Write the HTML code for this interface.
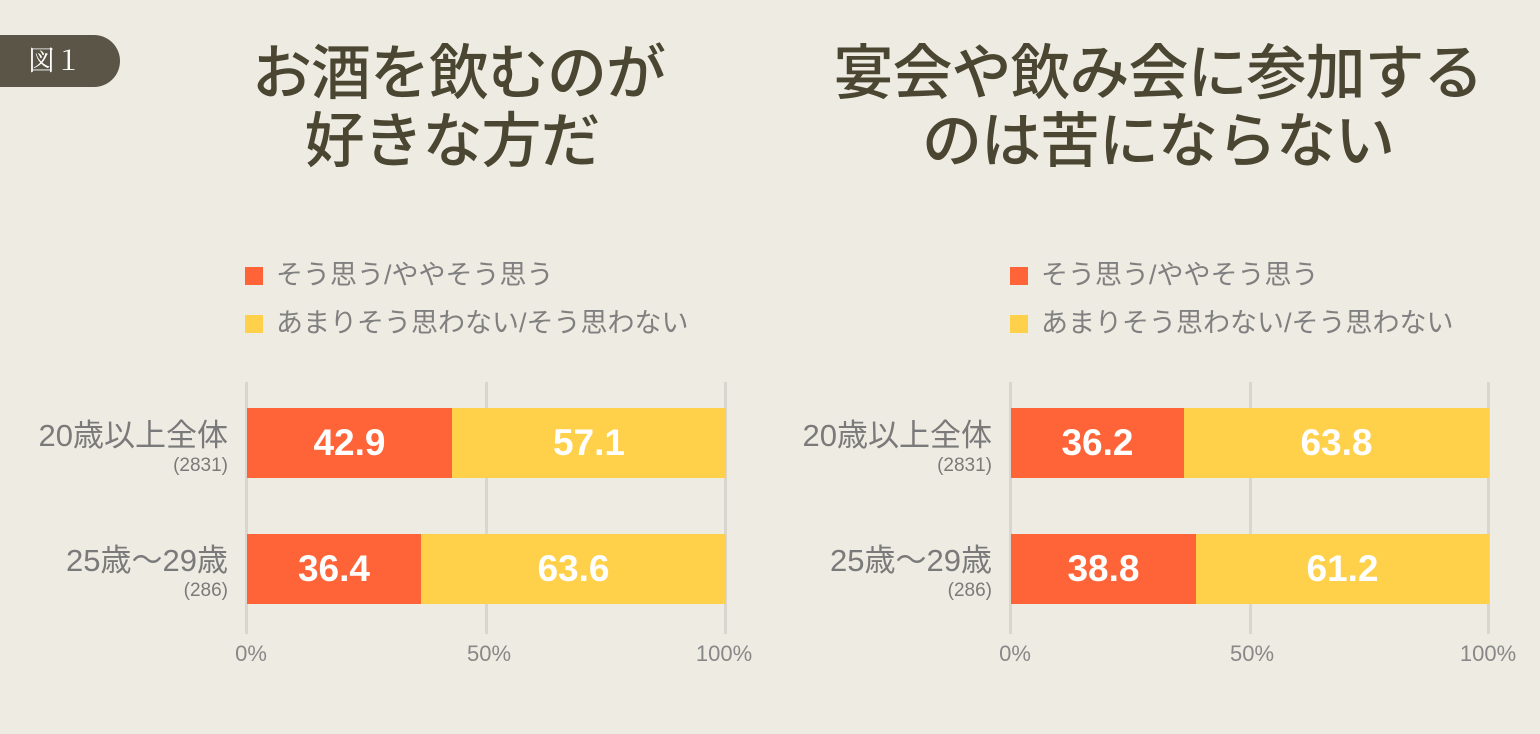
<!DOCTYPE html>
<html><head><meta charset="utf-8"><style>
body{margin:0;width:1540px;height:734px;background:#eeebe2;position:relative;overflow:hidden;font-family:"Liberation Sans","Noto Sans CJK JP",sans-serif}
.a{position:absolute}
.badge{left:0;top:35px;width:120px;height:52px;background:#5a5546;border-radius:0 26px 26px 0;color:#fff;font-family:"Liberation Serif","Noto Serif CJK SC",serif;font-size:27px;line-height:52px;text-indent:28px}
.title{color:#4a4632;font-size:60px;font-weight:500;line-height:68px;text-align:center;white-space:nowrap;letter-spacing:-1px}
.leg{color:#808080;font-size:27px;white-space:nowrap;line-height:30px}
.sq{width:18px;height:18px}
.lab{color:#7a7a7a;font-size:31px;text-align:right;white-space:nowrap;width:300px}
.sub{color:#7a7a7a;font-size:19px;text-align:right;width:300px}
.grid{width:3px;background:#d8d6cf;top:382px;height:252px}
.bar{height:70px;color:#fff;font-weight:bold;font-size:37px;line-height:70px;text-align:center}
.tick{color:#888;font-size:22px;top:641px;width:80px;text-align:center}
</style></head><body>
<div class="a badge">図１</div>
<div class="a title" style="left:252px;top:40px;width:400px">お酒を飲むのが<br>好きな方だ</div>
<div class="a title" style="left:758px;top:40px;width:800px">宴会や飲み会に参加する<br>のは苦にならない</div>

<div class="a sq" style="left:245px;top:267px;background:#ff6438"></div>
<div class="a leg" style="left:276px;top:260px">そう思う/ややそう思う</div>
<div class="a sq" style="left:245px;top:315px;background:#ffd04a"></div>
<div class="a leg" style="left:276px;top:308px">あまりそう思わない/そう思わない</div>
<div class="a sq" style="left:1010px;top:267px;background:#ff6438"></div>
<div class="a leg" style="left:1041px;top:260px">そう思う/ややそう思う</div>
<div class="a sq" style="left:1010px;top:315px;background:#ffd04a"></div>
<div class="a leg" style="left:1041px;top:308px">あまりそう思わない/そう思わない</div>

<div class="a grid" style="left:485px"></div><div class="a grid" style="left:724px"></div>
<div class="a grid" style="left:245px"></div>
<div class="a bar" style="left:247px;top:408px;width:205px;background:#ff6438">42.9</div>
<div class="a bar" style="left:452px;top:408px;width:274px;background:#ffd04a">57.1</div>
<div class="a bar" style="left:247px;top:534px;width:174px;background:#ff6438">36.4</div>
<div class="a bar" style="left:421px;top:534px;width:305px;background:#ffd04a">63.6</div>
<div class="a lab" style="left:-72px;top:410px">20歳以上全体</div>
<div class="a sub" style="left:-72px;top:455px">(2831)</div>
<div class="a lab" style="left:-72px;top:535px">25歳～29歳</div>
<div class="a sub" style="left:-72px;top:580px">(286)</div>
<div class="a tick" style="left:211px">0%</div>
<div class="a tick" style="left:449px">50%</div>
<div class="a tick" style="left:684px">100%</div>

<div class="a grid" style="left:1249px"></div><div class="a grid" style="left:1487px"></div>
<div class="a grid" style="left:1009px"></div>
<div class="a bar" style="left:1011px;top:408px;width:173px;background:#ff6438">36.2</div>
<div class="a bar" style="left:1184px;top:408px;width:305px;background:#ffd04a">63.8</div>
<div class="a bar" style="left:1011px;top:534px;width:185px;background:#ff6438">38.8</div>
<div class="a bar" style="left:1196px;top:534px;width:293px;background:#ffd04a">61.2</div>
<div class="a lab" style="left:692px;top:410px">20歳以上全体</div>
<div class="a sub" style="left:692px;top:455px">(2831)</div>
<div class="a lab" style="left:692px;top:535px">25歳～29歳</div>
<div class="a sub" style="left:692px;top:580px">(286)</div>
<div class="a tick" style="left:975px">0%</div>
<div class="a tick" style="left:1212px">50%</div>
<div class="a tick" style="left:1448px">100%</div>
</body></html>
